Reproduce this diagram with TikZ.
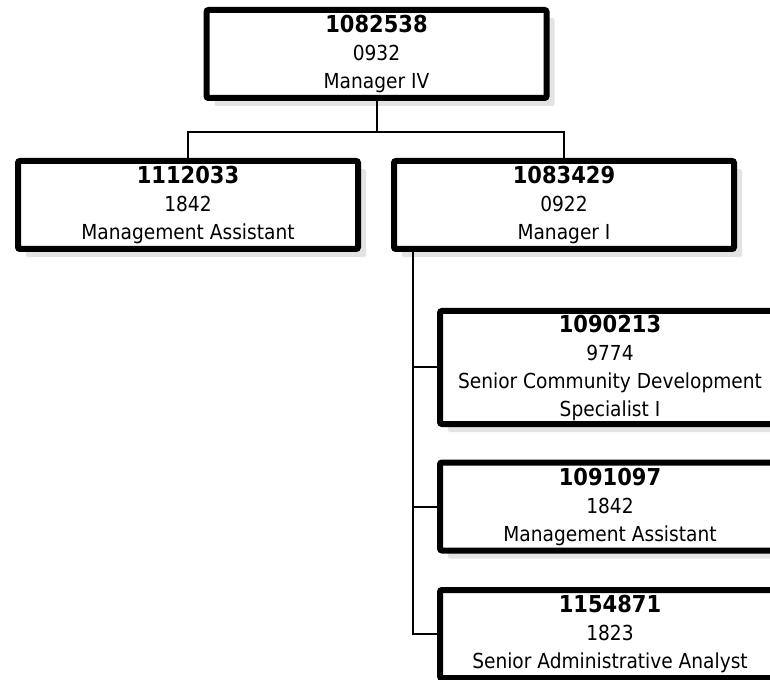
\documentclass[tikz,border=0pt]{standalone}
\usepackage{fontspec}
\setmainfont{DejaVu Sans}[FakeStretch=0.9]
\usetikzlibrary{shadows}

\newcommand{\idnum}[1]{{\fontsize{17.5}{21}\selectfont\bfseries #1}}

\tikzset{every picture/.style={line width=0.75pt}}
\tikzset{
	posbox/.style={draw, line width=4.5pt, rounded corners=1.5pt, fill=white,
		align=center, inner sep=1pt, minimum width=255pt, minimum height=66pt,
		font=\fontsize{15.5}{21}\selectfont,
		drop shadow={shadow xshift=6pt, shadow yshift=-6pt, fill=black!11, opacity=1}},
	tallbox/.style={posbox, minimum height=84.75pt},
	link/.style={line width=1.5pt}}

\begin{document}
\begin{tikzpicture}[x=0.75pt,y=0.75pt,yscale=-1,xscale=1]
	\useasboundingbox (0,0) rectangle (770,680);

	% Position boxes
	\node [posbox] (n1082538) at (376.5,54) {\idnum{1082538}\\0932\\Manager IV};
	\node [posbox] (n1112033) at (188,205) {\idnum{1112033}\\1842\\Management Assistant};
	\node [posbox] (n1083429) at (564,205) {\idnum{1083429}\\0922\\Manager I};
	\node [tallbox] (n1090213) at (610,367.5) {\idnum{1090213}\\9774\\Senior Community Development\\Specialist I};
	\node [posbox] (n1091097) at (610,506.5) {\idnum{1091097}\\1842\\Management Assistant};
	\node [posbox] (n1154871) at (610,634) {\idnum{1154871}\\1823\\Senior Administrative Analyst};

	% Reporting lines
	\draw [link] (n1082538.south) -- ++(0,31) -| (n1112033.north);
	\draw [link] (n1082538.south) -- ++(0,31) -| (n1083429.north);
	\coordinate (trunk) at (413,0);
	\draw [link] (trunk |- n1083429.south) -- (trunk |- n1154871.west) -- (n1154871.west);
	\draw [link] (trunk |- n1090213.west) -- (n1090213.west);
	\draw [link] (trunk |- n1091097.west) -- (n1091097.west);

\end{tikzpicture}
\end{document}
